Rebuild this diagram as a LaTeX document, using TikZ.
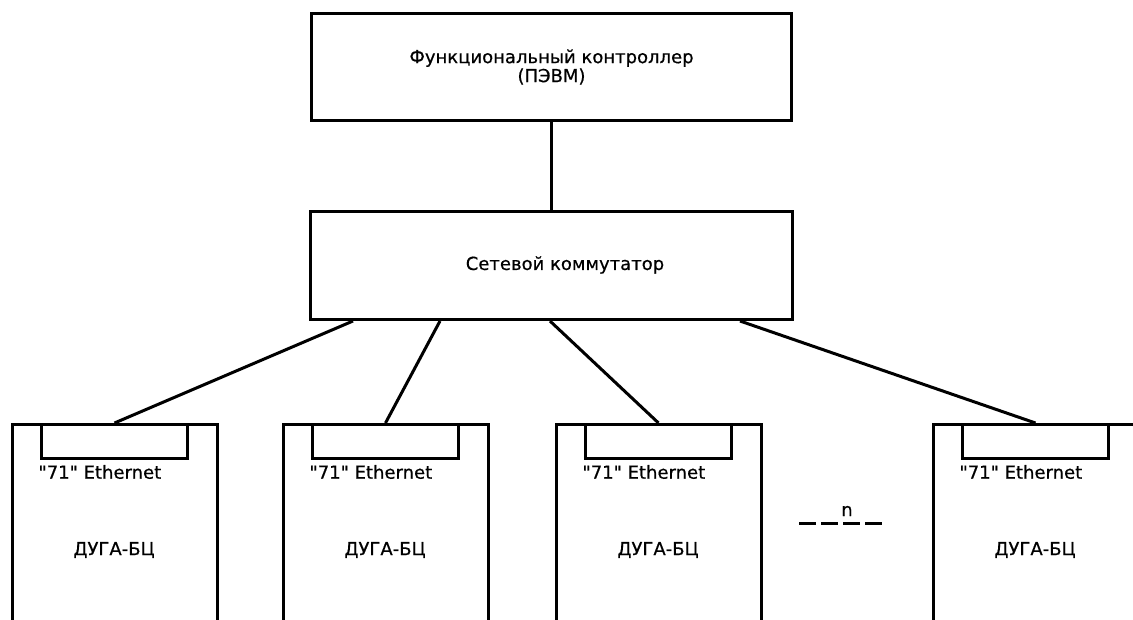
\documentclass[tikz,border=0pt]{standalone}
\usepackage{fontspec}
\setmainfont{DejaVu Sans}[Ligatures=TeXOff,FakeBold=0.6]
\begin{document}
\begin{tikzpicture}[x=1pt,y=-1pt,line width=3pt,
  box/.style={draw,rectangle,inner sep=0pt,line width=3pt},
  lbl/.style={inner sep=0pt,font=\fontsize{18}{19}\selectfont},
  wire/.style={draw,line width=3pt}]
\useasboundingbox (0,0) rectangle (1133,619);
\clip (0,0) rectangle (1133,619);
\node[box,anchor=north west,minimum width=480pt,minimum height=107pt,
      align=center,font=\fontsize{18}{19}\selectfont] (ctl) at (310,12)
      {Функциональный контроллер\\(ПЭВМ)};
\node[box,anchor=north west,minimum width=482pt,minimum height=108pt] (sw) at (309,210) {};
\node[lbl] (swtxt) at (565,265) {Сетевой коммутатор};
\draw[wire] (ctl) -- (sw);
\foreach \i/\bx in {1/11,2/282,3/555,4/932}{
  \node[box,anchor=north west,minimum width=205pt,minimum height=260pt] (b\i) at (\bx,423) {};
  \node[box,anchor=north west,minimum width=146pt,minimum height=34pt] (p\i) at (\bx+29,423) {};
  \node[lbl,anchor=west] (e\i) at (\bx+26,472) {"71" Ethernet};
  \node[lbl] (d\i) at (\bx+103,550) {ДУГА-БЦ};
}
\draw[wire] ([xshift=44pt]sw.south west) -- (p1.north);
\draw[wire] ([xshift=131pt]sw.south west) -- (p2.north);
\draw[wire] ([xshift=241pt]sw.south west) -- (p3.north);
\draw[wire] ([xshift=431pt]sw.south west) -- (p4.north);
\coordinate (dl) at (799,523);
\coordinate (dr) at (883,523);
\draw[wire,dash pattern=on 17pt off 5pt] (dl) -- (dr);
\node[lbl] (n) at (847,511) {n};
\end{tikzpicture}
\end{document}
